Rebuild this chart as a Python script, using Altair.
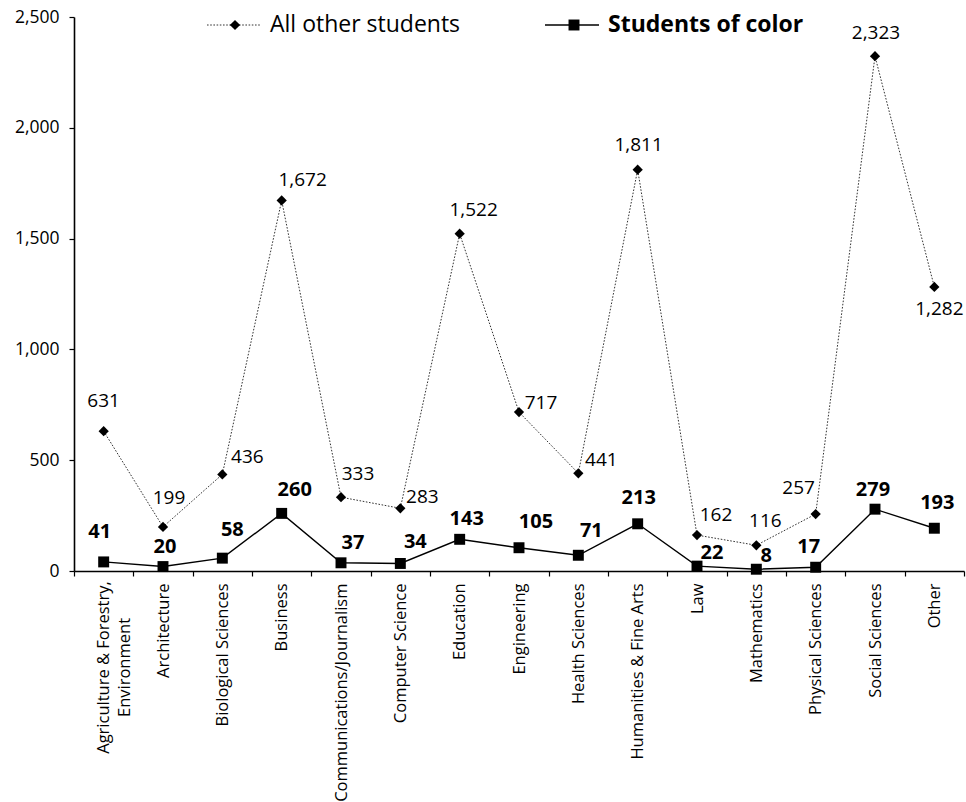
import json
import altair as alt
import pandas as pd

# Fields of study (a "|" marks a line break in the axis label)
categories = [
    "Agriculture & Forestry,|Environment",
    "Architecture",
    "Biological Sciences",
    "Business",
    "Communications/Journalism",
    "Computer Science",
    "Education",
    "Engineering",
    "Health Sciences",
    "Humanities & Fine Arts",
    "Law",
    "Mathematics",
    "Physical Sciences",
    "Social Sciences",
    "Other",
]
all_other_students = [631, 199, 436, 1672, 333, 283, 1522, 717, 441, 1811, 162, 116, 257, 2323, 1282]
students_of_color = [41, 20, 58, 260, 37, 34, 143, 105, 71, 213, 22, 8, 17, 279, 193]

# Pixel nudges for the value labels (label centre relative to its marker)
other_label_dx = [0, 6, 25, 21, 17, 22, 14, 22, 23, 1, 19, 9, -17, 1, 5]
other_label_dy = [-30, -29, -17, -20, -23, -11, -24, -9, -13, -25, -20, -24, -26, -23, 22]
color_label_dx = [-4, 2, 10, 13, 12, 15, 7, 17, 13, 1, 15, 10, -7, -2, 3]
color_label_dy = [-30, -20, -28, -23, -20, -21, -20, -26, -24, -26, -13, -13, -20, -19, -25]

PLOT_W, PLOT_H = 890, 554
Y_MAX = 2500
n = len(categories)
band = PLOT_W / n
px_per_unit = PLOT_H / Y_MAX
FONT = "Open Sans"


def series_frame(values, dxs, dys):
    return pd.DataFrame({
        "idx": list(range(n)),
        "value": values,
        "lx": [i + dx / band for i, dx in enumerate(dxs)],
        "ly": [v - dy / px_per_unit for v, dy in zip(values, dys)],
    })


other_df = series_frame(all_other_students, other_label_dx, other_label_dy)
color_df = series_frame(students_of_color, color_label_dx, color_label_dy)

x_scale = alt.Scale(domain=[-0.5, n - 0.5], nice=False, zero=False)
y_scale = alt.Scale(domain=[0, Y_MAX], nice=False)

names_js = json.dumps(categories)
x_axis = alt.Axis(
    values=[i - 0.5 for i in range(n + 1)],
    labelExpr=f"datum.value > {n - 1} ? '' : split({names_js}[round(datum.value + 0.5)], '|')",
    labelOffset=band / 2,
    labelAngle=-90,
    labelAlign={"condition": {"test": "datum.value < 0", "value": "center"}, "value": "right"},
    labelPadding={"condition": {"test": "datum.value < 0", "value": 91}, "value": 7},
    labelBaseline="middle",
    labelLineHeight=21,
    labelFont=FONT,
    labelFontSize=16.5,
    labelColor="#000",
    labelLimit=0,
    labelOverlap=False,
    labelFlush=False,
    labelBound=False,
    tickSize=5,
    tickColor="#000",
    tickWidth=1.2,
    domainColor="#000",
    domainWidth=1.6,
    grid=False,
    title=None,
)
y_axis = alt.Axis(
    values=[0, 500, 1000, 1500, 2000, 2500],
    labelExpr="format(datum.value, ',')",
    labelFont=FONT,
    labelFontSize=17.5,
    labelColor="#000",
    labelPadding=10,
    tickSize=5,
    tickColor="#000",
    tickWidth=1.2,
    domainColor="#000",
    domainWidth=1.6,
    grid=False,
    title=None,
)


def xy(xfield, yfield):
    return dict(
        x=alt.X(f"{xfield}:Q", scale=x_scale, axis=x_axis),
        y=alt.Y(f"{yfield}:Q", scale=y_scale, axis=y_axis),
    )


other_line = alt.Chart(other_df).mark_line(
    color="#333", strokeWidth=1, strokeDash=[1.6, 1.6]
).encode(**xy("idx", "value"))
other_pts = alt.Chart(other_df).mark_point(
    shape="diamond", filled=True, color="#000", size=105, opacity=1
).encode(**xy("idx", "value"))
other_txt = alt.Chart(other_df).mark_text(
    font=FONT, fontSize=19, color="#000", align="center", baseline="middle"
).encode(**xy("lx", "ly"), text=alt.Text("value:Q", format=","))

color_line = alt.Chart(color_df).mark_line(
    color="#000", strokeWidth=1.4
).encode(**xy("idx", "value"))
color_pts = alt.Chart(color_df).mark_point(
    shape="square", filled=True, color="#000", size=120, opacity=1
).encode(**xy("idx", "value"))
color_txt = alt.Chart(color_df).mark_text(
    font=FONT, fontSize=20, fontWeight="bold", color="#000", align="center", baseline="middle"
).encode(**xy("lx", "ly"), text=alt.Text("value:Q", format=","))

# Legend drawn along the top of the plot
one = alt.Data(values=[{}])
LEG_Y = 8
leg_other_line = alt.Chart(one).mark_rule(
    color="#333", strokeWidth=1, strokeDash=[1.6, 1.6]
).encode(x=alt.value(133), x2=alt.value(187), y=alt.value(LEG_Y))
leg_other_pt = alt.Chart(one).mark_point(
    shape="diamond", filled=True, color="#000", size=105, opacity=1
).encode(x=alt.value(161), y=alt.value(LEG_Y))
leg_other_txt = alt.Chart(one).mark_text(
    text="All other students", font=FONT, fontSize=23, color="#000",
    align="left", baseline="middle"
).encode(x=alt.value(196), y=alt.value(LEG_Y))
leg_color_line = alt.Chart(one).mark_rule(
    color="#000", strokeWidth=1.4
).encode(x=alt.value(471), x2=alt.value(525), y=alt.value(LEG_Y))
leg_color_pt = alt.Chart(one).mark_point(
    shape="square", filled=True, color="#000", size=120, opacity=1
).encode(x=alt.value(500), y=alt.value(LEG_Y))
leg_color_txt = alt.Chart(one).mark_text(
    text="Students of color", font=FONT, fontSize=23, fontWeight="bold", color="#000",
    align="left", baseline="middle"
).encode(x=alt.value(534), y=alt.value(LEG_Y))

chart = alt.layer(
    other_line, color_line, other_pts, color_pts, other_txt, color_txt,
    leg_other_line, leg_other_pt, leg_other_txt,
    leg_color_line, leg_color_pt, leg_color_txt,
).properties(
    width=PLOT_W,
    height=PLOT_H,
    autosize=alt.AutoSizeParams(type="none"),
    padding={"left": 74, "top": 17, "right": 2, "bottom": 231},
    background="white",
).configure_view(stroke=None)

chart.save("out.html", embed_options={"renderer": "svg", "actions": False})
